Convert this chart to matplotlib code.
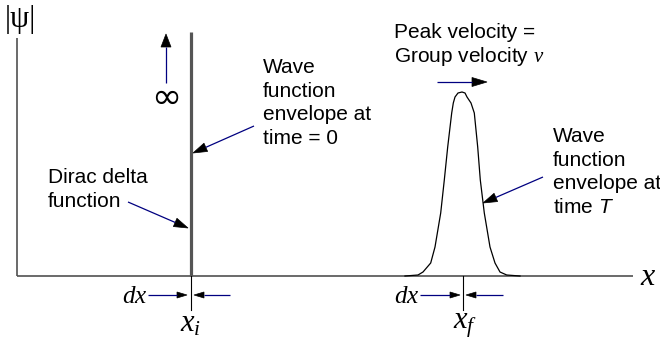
import numpy as np
import matplotlib
matplotlib.use("Agg")
import matplotlib.pyplot as plt
from matplotlib.patches import Polygon

plt.rcParams['mathtext.fontset'] = 'custom'
plt.rcParams['mathtext.it'] = 'Liberation Serif:italic'
plt.rcParams['mathtext.rm'] = 'Liberation Serif'
plt.rcParams['mathtext.sf'] = 'Liberation Sans:italic'

# ---- data (diagram units = pixels of the reference) ----
baseline = 276
x_i = 190.5
x_f = 463
delta_height = 244            # height of the Dirac delta spike
# wave packet envelope at time T (x position, height above axis)
packet_x = [405, 418, 423, 430.7, 435, 440.7, 444.3, 447.7, 451.7, 453.3, 455, 458,
            462, 465, 467, 471, 474.3, 477.7, 480.3, 484.3, 490, 495, 500, 506.7, 520]
packet_h = [0, 1, 4, 13, 29, 63, 96, 129, 163, 173, 179, 183,
            184, 183, 179, 173, 163, 129, 96, 63, 29, 13, 4, 1, 0]

W, H = 660, 347
fig = plt.figure(figsize=(6.6, 3.47), dpi=100)
ax = fig.add_axes([0, 0, 1, 1])
ax.set_xlim(0, W)
ax.set_ylim(H, 0)
ax.axis('off')

SANS = 'Liberation Sans'
SERIF = 'Liberation Serif'
BLUE = '#000080'
FS = 15

# axes
ax.plot([17, 17], [38, baseline], color='#505050', lw=1.2, solid_capstyle='butt')
ax.plot([17, 633], [baseline, baseline], color='#505050', lw=1.2, solid_capstyle='butt')

# Dirac delta spike
ax.plot([x_i, x_i], [baseline, baseline - delta_height], color='#555555', lw=2.3,
        solid_capstyle='butt')

# wave packet
ax.plot(packet_x, [baseline - h for h in packet_h], color='black', lw=0.9)

# ticks at x_i and x_f
for xp in (x_i, x_f):
    ax.plot([xp, xp], [baseline, 310], color='black', lw=0.8)


def arrow(start, tip, hl=14, hw=9, lw=0.9):
    s = np.array(start, float)
    t = np.array(tip, float)
    d = t - s
    d /= np.hypot(*d)
    n = np.array([-d[1], d[0]])
    base = t - d * hl
    ax.plot([s[0], base[0]], [s[1], base[1]], color=BLUE, lw=lw, solid_capstyle='butt')
    tri = Polygon([t, base + n * hw / 2, base - n * hw / 2], closed=True,
                  facecolor='black', edgecolor='black', lw=0.5)
    ax.add_patch(tri)


arrow((166, 83), (166, 34), hl=13, hw=10)          # to infinity
arrow((254, 126), (193, 153), hl=14, hw=9)         # to delta
arrow((128, 202), (188, 228), hl=14, hw=9)         # Dirac delta label
arrow((543, 177), (483, 203), hl=14, hw=9)         # packet label
arrow((437, 82), (487, 82), hl=15, hw=9)           # group velocity
# dx arrows
arrow((148, 295), (187, 295), hl=10, hw=6)
arrow((230, 295), (194, 295), hl=10, hw=6)
arrow((420, 295), (460, 295), hl=10, hw=6)
arrow((503, 295), (466, 295), hl=10, hw=6)

# texts
def lines(x, y0, txts, dy=23.5, **kw):
    for k, t in enumerate(txts):
        ax.text(x, y0 + k * dy, t, ha='left', va='baseline', fontsize=FS,
                family=SANS, **kw)

lines(394, 38, ["Peak velocity =", "Group velocity $v$"])
lines(263, 73, ["Wave", "function", "envelope at", "time = 0"])
lines(48, 183, ["Dirac delta", "function"])
lines(553, 142, ["Wave", "function", "envelope at", r"time $\mathsf{T}$"])

ax.text(5, 27, "|ψ|", family=SERIF, fontsize=22, ha='left', va='baseline')
ax.text(166, 108, "∞", family='DejaVu Sans', fontsize=26, ha='center', va='baseline')
ax.text(147, 303, "$dx$", fontsize=18, ha='right', va='baseline')
ax.text(419, 303, "$dx$", fontsize=18, ha='right', va='baseline')
ax.text(191, 332, "$x_i$", fontsize=22, ha='center', va='baseline')
ax.text(465, 328, "$x_f$", fontsize=22, ha='center', va='baseline')
ax.text(640, 285, "$x$", fontsize=23, ha='left', va='baseline')

fig.savefig("out.png", dpi=100)
